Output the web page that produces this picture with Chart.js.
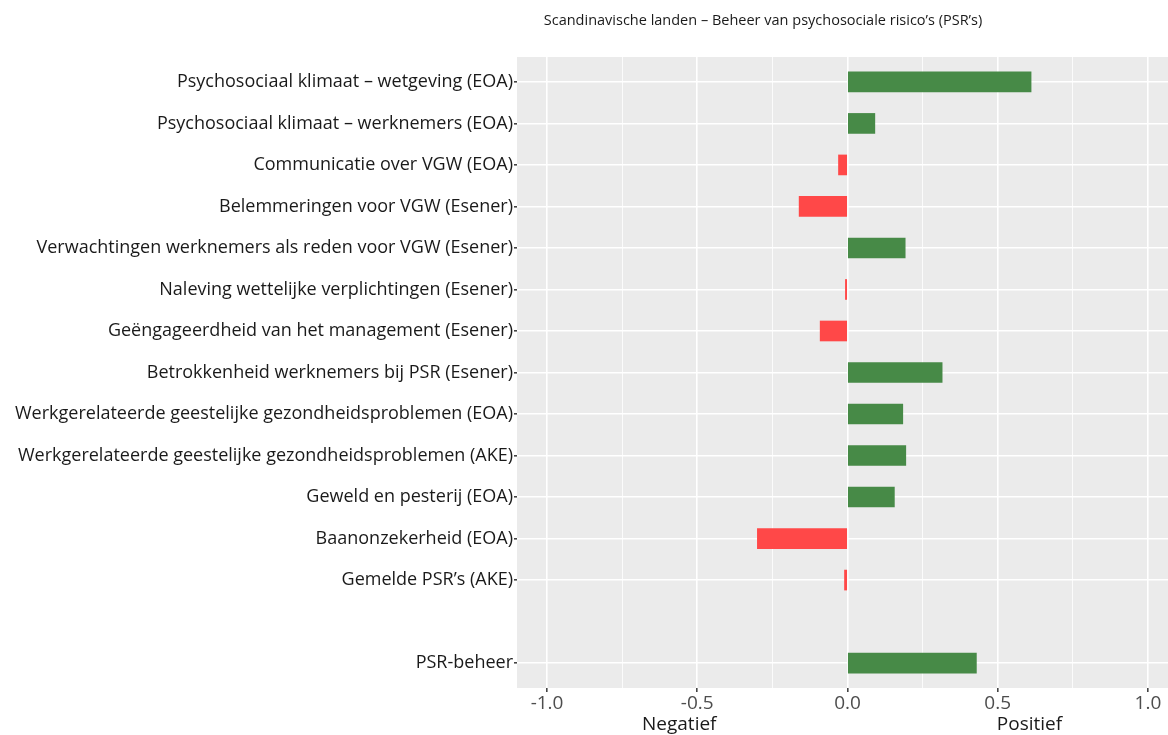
<!DOCTYPE html>
<html>
<head>
<meta charset="utf-8">
<script src="https://cdn.jsdelivr.net/npm/chart.js@4.4.1/dist/chart.umd.min.js"></script>
<style>
  html, body { margin: 0; padding: 0; background: #fff; overflow: hidden; }
  #wrap { position: relative; width: 1168px; height: 735px; }
</style>
</head>
<body>
<div id="wrap"><canvas id="grafiek"></canvas></div>
<script>
// Gegevens
const titel = 'Scandinavische landen – Beheer van psychosociale risico’s (PSR’s)';
const categorieen = [
  'Psychosociaal klimaat – wetgeving (EOA)',
  'Psychosociaal klimaat – werknemers (EOA)',
  'Communicatie over VGW (EOA)',
  'Belemmeringen voor VGW (Esener)',
  'Verwachtingen werknemers als reden voor VGW (Esener)',
  'Naleving wettelijke verplichtingen (Esener)',
  'Geëngageerdheid van het management (Esener)',
  'Betrokkenheid werknemers bij PSR (Esener)',
  'Werkgerelateerde geestelijke gezondheidsproblemen (EOA)',
  'Werkgerelateerde geestelijke gezondheidsproblemen (AKE)',
  'Geweld en pesterij (EOA)',
  'Baanonzekerheid (EOA)',
  'Gemelde PSR’s (AKE)',
  '',
  'PSR-beheer'
];
const waarden = [0.611, 0.091, -0.030, -0.161, 0.192, -0.007, -0.091, 0.315, 0.184, 0.194, 0.156, -0.300, -0.010, null, 0.429];
const xTicks = [-1, -0.75, -0.5, -0.25, 0, 0.25, 0.5, 0.75, 1];
const asLabels = [{ tekst: 'Negatief', waarde: -0.56 }, { tekst: 'Positief', waarde: 0.497, links: true }];

const GROEN = '#478A47';
const ROOD = '#FF4848';

const isHoofd = v => Math.abs(v * 2 - Math.round(v * 2)) < 1e-6;

// Tekst boven en onder de grafiek
const tekstPlugin = {
  id: 'tekst',
  afterDraw(chart) {
    const ctx = chart.ctx;
    const x = chart.scales.x;
    ctx.save();
    ctx.fillStyle = '#1a1a1a';
    ctx.font = '14.5px "Open Sans"';
    ctx.textAlign = 'center';
    ctx.textBaseline = 'middle';
    ctx.fillText(titel, 763, 21);
    ctx.font = '19px "Open Sans"';
    asLabels.forEach(l => {
      ctx.textAlign = l.links ? 'left' : 'center';
      ctx.fillText(l.tekst, x.getPixelForValue(l.waarde), 725);
    });
    ctx.restore();
  }
};

const punten = categorieen.map((c, i) => ({ x: waarden[i], y: i + 1 })).filter(p => p.x !== null);

new Chart(document.getElementById('grafiek'), {
  type: 'bar',
  data: {
    datasets: [{
      data: punten,
      backgroundColor: punten.map(p => p.x >= 0 ? GROEN : ROOD),
      borderWidth: 0,
      barThickness: 20
    }]
  },
  options: {
    indexAxis: 'y',
    responsive: true,
    maintainAspectRatio: false,
    animation: false,
    layout: { padding: { top: 57, right: 0, left: 0, bottom: 0 } },
    plugins: {
      legend: { display: false },
      tooltip: { enabled: false }
    },
    scales: {
      x: {
        type: 'linear',
        min: -1.1,
        max: 1.0667,
        afterBuildTicks: s => { s.ticks = xTicks.map(v => ({ value: v })); },
        afterFit: s => { s.height = 47; },
        border: { display: false },
        grid: {
          color: '#ffffff',
          lineWidth: c => (c.tick && isHoofd(c.tick.value)) ? 1.6 : 0.8,
          tickColor: c => (c.tick && isHoofd(c.tick.value)) ? '#444' : 'rgba(0,0,0,0)',
          tickLength: 4
        },
        ticks: {
          color: '#4d4d4d',
          font: { family: 'Open Sans', size: 19 },
          padding: 0,
          maxRotation: 0,
          callback: v => isHoofd(v) ? v.toFixed(1) : ''
        }
      },
      y: {
        type: 'linear',
        reverse: true,
        offset: false,
        min: 0.4,
        max: 15.6,
        afterBuildTicks: s => {
          s.ticks = categorieen.map((c, i) => ({ value: i + 1 })).filter((t, i) => categorieen[i] !== '');
        },
        afterFit: s => { s.width = 517; },
        border: { display: false },
        grid: { offset: false, color: '#ffffff', lineWidth: 1.6, tickColor: '#444', tickLength: 3 },
        ticks: {
          color: '#1a1a1a',
          font: { family: 'Open Sans', size: 18 },
          padding: 1,
          callback: v => categorieen[v - 1]
        }
      }
    }
  },
  plugins: [{
    id: 'paneel',
    beforeDraw(chart) {
      const a = chart.chartArea;
      chart.ctx.save();
      chart.ctx.fillStyle = '#EBEBEB';
      chart.ctx.fillRect(a.left, a.top, a.right - a.left, a.bottom - a.top);
      chart.ctx.restore();
    }
  }, tekstPlugin]
});
</script>
</body>
</html>
